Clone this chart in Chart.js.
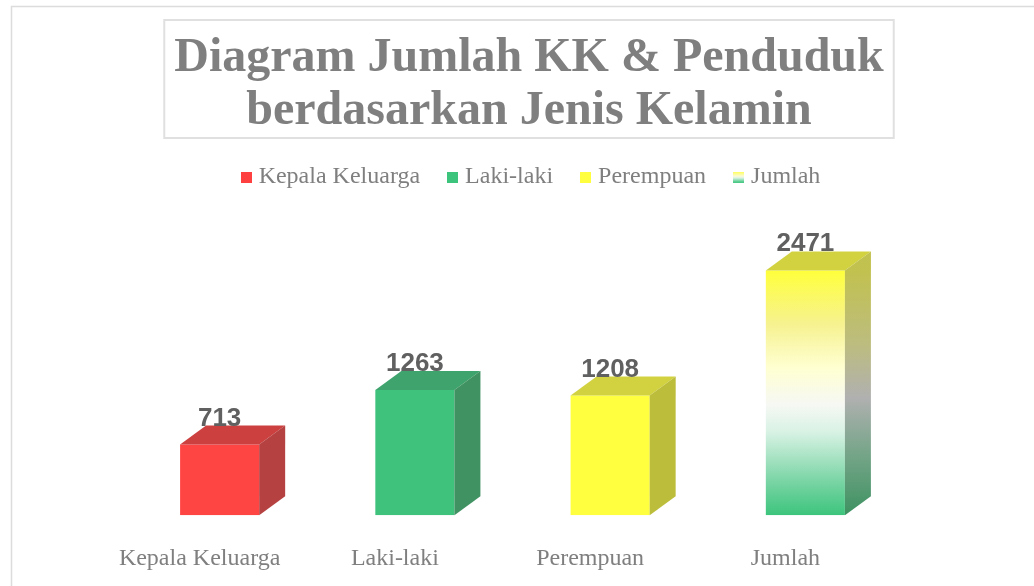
<!DOCTYPE html>
<html>
<head>
<meta charset="utf-8">
<script src="https://cdn.jsdelivr.net/npm/chart.js@4.4.0/dist/chart.umd.min.js"></script>
<style>
html,body{margin:0;padding:0;background:#fff;}
#wrap{width:1034px;height:586px;position:relative;}
</style>
</head>
<body>
<div id="wrap"><canvas id="chart" width="1034" height="586"></canvas></div>
<script>
'use strict'

// data
const categories = ['Kepala Keluarga', 'Laki-laki', 'Perempuan', 'Jumlah'];
const seriesNames = ['Kepala Keluarga', 'Laki-laki', 'Perempuan', 'Jumlah'];
const kepalaKeluarga = [713, null, null, null];
const lakiLaki = [null, 1263, null, null];
const perempuan = [null, null, 1208, null];
const jumlah = [null, null, null, 2471];
const titleLines = ['Diagram Jumlah KK & Penduduk', 'berdasarkan Jenis Kelamin'];

const grey = '#7f7f7f';
const serif = '"Liberation Serif", "Times New Roman", serif';
const depthX = 26, depthY = 19;

// front / top / side colours per series
const faces = [
    {front: 'rgba(255,60,60,0.96)', top: 'rgba(200,50,50,0.93)', side: 'rgba(178,55,55,0.95)'},
    {front: 'rgba(56,192,120,0.97)', top: 'rgba(52,158,100,0.95)', side: 'rgba(54,140,90,0.95)'},
    {front: 'rgba(255,255,55,0.96)', top: 'rgba(208,208,55,0.95)', side: 'rgba(185,185,50,0.95)'},
    {front: null, top: 'rgba(208,208,55,0.95)', side: null}
];

/******************     HELPERS    ******************/
const isDefined = (x) => x != null;

const swatch = (paint) => {
    const c = document.createElement('canvas');
    c.width = 11; c.height = 11;
    const g = c.getContext('2d');
    if (paint === 'grad') {
        const gr = g.createLinearGradient(0, 0, 0, 11);
        gr.addColorStop(0, '#ffff50');
        gr.addColorStop(0.45, '#fbfbe0');
        gr.addColorStop(0.6, '#d6f2e2');
        gr.addColorStop(1, '#3cc47c');
        g.fillStyle = gr;
    } else {
        g.fillStyle = paint;
    }
    g.fillRect(0, 0, 11, 11);
    return c;
};

const jumlahFront = (ctx) => {
    const chart = ctx.chart;
    const ys = chart.scales.y;
    if (!chart.chartArea || !ys || !isDefined(ctx.raw)) return '#ffff40';
    const top = ys.getPixelForValue(ctx.raw);
    const base = ys.getPixelForValue(0);
    const gr = chart.ctx.createLinearGradient(0, top, 0, base);
    gr.addColorStop(0, '#ffff3c');
    gr.addColorStop(0.22, '#f6f290');
    gr.addColorStop(0.4, '#ffffd2');
    gr.addColorStop(0.55, '#f6f8f4');
    gr.addColorStop(0.66, '#d8f2e4');
    gr.addColorStop(0.85, '#7fd6a8');
    gr.addColorStop(1, '#3cc47c');
    return gr;
};

/******************     PLUGINS    ******************/
// legend gets a fixed height so the plot starts where the reference does
const legendHeight = {
    id: 'legendHeight',
    beforeInit(chart) {
        const lg = chart.legend;
        const fit = lg.fit;
        lg.fit = function () {
            fit.call(lg);
            lg.height = 85;
        };
    },
    afterLayout(chart) {
        // legend sits a little right of the plot centre in the reference
        chart.legend.left += 4;
        chart.legend.right += 4;
    }
};

const frames = {
    id: 'frames',
    beforeDraw(chart) {
        const c = chart.ctx;
        c.save();
        c.strokeStyle = '#dcdcdc';
        c.lineWidth = 1.5;
        c.strokeRect(11.5, 6.5, 1100, 700);
        // box round the title
        const tb = chart.titleBlock;
        c.font = 'bold 48px ' + serif;
        const w = Math.max(...titleLines.map(t => c.measureText(t).width));
        const cx = (tb.left + tb.right) / 2;
        c.lineWidth = 2;
        c.strokeStyle = '#e0e0e0';
        c.strokeRect(cx - w / 2 - 10, tb.top - 12, w + 20, 118);
        c.restore();
    }
};

const bars3d = {
    id: 'bars3d',
    afterDatasetsDraw(chart) {
        const c = chart.ctx;
        chart.data.datasets.forEach((ds, i) => {
            const meta = chart.getDatasetMeta(i);
            meta.data.forEach((bar, j) => {
                if (!isDefined(ds.data[j])) return;
                const p = bar.getProps(['x', 'y', 'base', 'width'], true);
                const l = p.x - p.width / 2, r = p.x + p.width / 2;
                c.save();
                // top face
                c.fillStyle = faces[i].top;
                c.beginPath();
                c.moveTo(l, p.y);
                c.lineTo(l + depthX, p.y - depthY);
                c.lineTo(r + depthX, p.y - depthY);
                c.lineTo(r, p.y);
                c.closePath();
                c.fill();
                // side face
                let side = faces[i].side;
                if (!side) {
                    side = c.createLinearGradient(0, p.y, 0, p.base);
                    side.addColorStop(0, 'rgba(190,190,70,0.95)');
                    side.addColorStop(0.3, 'rgba(185,185,120,0.95)');
                    side.addColorStop(0.52, 'rgba(172,172,172,0.95)');
                    side.addColorStop(0.75, 'rgba(110,160,130,0.95)');
                    side.addColorStop(1, 'rgba(55,142,92,0.97)');
                }
                c.fillStyle = side;
                c.beginPath();
                c.moveTo(r, p.y);
                c.lineTo(r + depthX, p.y - depthY);
                c.lineTo(r + depthX, p.base - depthY);
                c.lineTo(r, p.base);
                c.closePath();
                c.fill();
                // value label
                c.fillStyle = '#606060';
                c.font = 'bold 26px "Liberation Sans", Arial, sans-serif';
                c.textAlign = 'center';
                c.textBaseline = 'alphabetic';
                c.fillText(String(ds.data[j]), p.x, p.y - depthY);
                c.restore();
            });
        });
    }
};

/******************     CHART    ******************/
const seriesData = [kepalaKeluarga, lakiLaki, perempuan, jumlah];
const swatches = [swatch('#ff4040'), swatch('#3cc47c'), swatch('#ffff40'), swatch('grad')];

const datasets = seriesNames.map((name, i) => ({
    label: name,
    data: seriesData[i],
    backgroundColor: faces[i].front ? faces[i].front : jumlahFront,
    borderWidth: 0,
    pointStyle: swatches[i],
    barPercentage: 0.405,
    categoryPercentage: 1
}));

const chart = new Chart(document.getElementById('chart'), {
    type: 'bar',
    data: {labels: categories, datasets: datasets},
    options: {
        responsive: false,
        animation: false,
        layout: {padding: {left: 122, right: 98, top: 32, bottom: -16}},
        plugins: {
            title: {
                display: true,
                text: titleLines,
                color: grey,
                font: {family: serif, size: 48, weight: 'bold', lineHeight: 53 / 48},
                padding: {top: 0, bottom: -5}
            },
            legend: {
                position: 'top',
                labels: {
                    usePointStyle: true,
                    boxWidth: 1,
                    boxHeight: 11,
                    padding: 32,
                    color: grey,
                    font: {family: serif, size: 24}
                }
            },
            tooltip: {enabled: false}
        },
        scales: {
            x: {
                stacked: true,
                grid: {display: false, drawTicks: false},
                border: {display: false},
                ticks: {
                    color: grey,
                    font: {family: serif, size: 24},
                    padding: 29,
                    labelOffset: -20,
                    maxRotation: 0
                }
            },
            y: {
                stacked: true,
                display: false,
                min: 0,
                max: 3000
            },
            yPad: {
                position: 'right',
                display: true,
                grid: {display: false},
                border: {display: false},
                ticks: {display: false},
                afterFit: (s) => { s.width = 33; }
            }
        }
    },
    plugins: [legendHeight, frames, bars3d]
});
</script>
</body>
</html>
